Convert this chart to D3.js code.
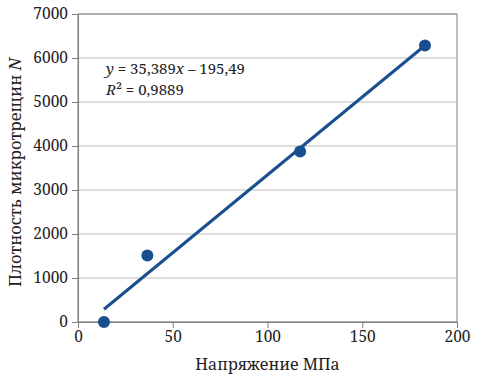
<!DOCTYPE html>
<html><head><meta charset="utf-8">
<script src="https://cdn.jsdelivr.net/npm/d3@7"></script>
<style>body{margin:0;background:#fff}svg{display:block}</style>
</head><body>
<script>
const stress = [13.7, 36.6, 117.2, 183.1];
const density = [0, 1514, 3877, 6286];
const slope = 35.389, intercept = -195.49;
const xTicks = [0, 50, 100, 150, 200];
const yTicks = [0, 1000, 2000, 3000, 4000, 5000, 6000, 7000];
const eqLine1 = ["y", " = 35,389", "x", " – 195,49"];
const eqLine2 = "R² = 0,9889";
const xTitle = "Напряжение МПа";
const yTitle = "Плотность микротрещин ";

const FONT = '"Noto Serif","Liberation Serif",serif';
const W = 489, H = 381;
const m = {l: 78, r: 32, t: 14, b: 59};
const svg = d3.select("body").append("svg").attr("width", W).attr("height", H);
const x = d3.scaleLinear().domain([0, 200]).range([m.l, W - m.r]);
const y = d3.scaleLinear().domain([0, 7000]).range([H - m.b, m.t]);
const col = "#1a4f8f";

svg.append("g").selectAll("line").data(yTicks).join("line")
  .attr("x1", m.l).attr("x2", W - m.r).attr("y1", d => y(d)).attr("y2", d => y(d))
  .attr("stroke", "#bdbdbd").attr("stroke-width", 1);
svg.append("rect").attr("x", m.l).attr("y", m.t).attr("width", W - m.r - m.l).attr("height", H - m.b - m.t)
  .attr("fill", "none").attr("stroke", "#7f7f7f").attr("stroke-width", 1);

const yAx = svg.append("g").attr("transform", `translate(${m.l},0)`)
  .call(d3.axisLeft(y).tickValues(yTicks).tickSize(6).tickPadding(4).tickFormat(d3.format("d")));
const xAx = svg.append("g").attr("transform", `translate(0,${H - m.b})`)
  .call(d3.axisBottom(x).tickValues(xTicks).tickSize(6).tickPadding(3).tickFormat(d3.format("d")));
[yAx, xAx].forEach(g => {
  g.attr("font-family", null).attr("font-size", null);
  g.select(".domain").attr("stroke", "#7f7f7f");
  g.selectAll(".tick line").attr("stroke", "#7f7f7f");
  g.selectAll("text").style("font-family", FONT).style("font-size", "15.5px").attr("fill", "#222");
});

const x0 = d3.min(stress), x1 = d3.max(stress);
svg.append("path").datum([x0, x1])
  .attr("d", d3.line().x(d => x(d)).y(d => y(slope * d + intercept)))
  .attr("stroke", col).attr("stroke-width", 3).attr("fill", "none");

svg.append("g").selectAll("circle").data(stress.map((s, i) => [s, density[i]])).join("circle")
  .attr("cx", d => x(d[0])).attr("cy", d => y(d[1])).attr("r", 6).attr("fill", col);

const eq = svg.append("text").attr("x", 106).attr("y", 74)
  .style("font-family", FONT).style("font-size", "15px").attr("fill", "#222");
eq.selectAll("tspan").data(eqLine1).join("tspan")
  .style("font-style", (d, i) => i % 2 === 0 ? "italic" : "normal").text(d => d);
const r2 = svg.append("text").attr("x", 106).attr("y", 95)
  .style("font-family", FONT).style("font-size", "15px").attr("fill", "#222");
r2.append("tspan").style("font-style", "italic").text("R");
r2.append("tspan").text(eqLine2.slice(1));

svg.append("text").attr("x", 267.5).attr("y", 370).attr("text-anchor", "middle")
  .style("font-family", FONT).style("font-size", "16px").attr("fill", "#222").text(xTitle);
const yt = svg.append("text").attr("transform", `translate(20.5,172.5) rotate(-90)`)
  .attr("text-anchor", "middle").style("font-family", FONT).style("font-size", "16.5px").attr("fill", "#222");
yt.append("tspan").text(yTitle);
yt.append("tspan").style("font-style", "italic").text("N");
</script>
</body></html>
